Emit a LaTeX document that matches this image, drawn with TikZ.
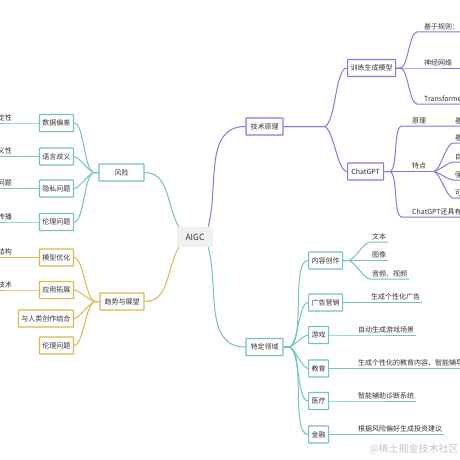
\documentclass[tikz,border=0pt]{standalone}
\usepackage{fontspec}
\setmainfont{Noto Sans CJK SC}
\definecolor{tealline}{HTML}{72C3C3}
\definecolor{purpline}{HTML}{8E74DE}
\definecolor{goldline}{HTML}{E0B552}
\definecolor{nodetext}{HTML}{333333}
\definecolor{rootfill}{HTML}{F0F0F0}
\begin{document}
\begin{tikzpicture}[x=1pt,y=-1pt,
  root/.style={fill=rootfill,rounded corners=1pt,minimum width=36pt,minimum height=20pt,inner sep=0pt,text=nodetext,font=\fontsize{8.5}{10}\selectfont},
  topic/.style={draw,fill=white,line width=1.2pt,rounded corners=0.5pt,minimum height=17pt,inner xsep=4.5pt,inner ysep=0pt,text=nodetext,font=\fontsize{7}{8}\selectfont},
  subtopic/.style={topic,inner xsep=3pt},
  leaf/.style={anchor=south west,inner xsep=2pt,inner ysep=2pt,text=nodetext,font=\fontsize{7}{8}\selectfont},
  leafl/.style={leaf,anchor=south east,inner xsep=1pt},
  link/.style={line width=1pt,looseness=0.5}]
\useasboundingbox (0,0) rectangle (460,460);
\fill[white] (0,0) rectangle (460,460);
\coordinate (edgeR) at (462,0);
\node[root] (aigc) at (195,237) {AIGC};
\node[topic,draw=purpline] (tech) at (264.5,126.5) {技术原理};
\node[topic,draw=tealline] (field) at (264.5,347) {特定领域};
\node[topic,draw=tealline,minimum width=45pt] (risk) at (121.5,172.5) {风险};
\node[topic,draw=goldline] (trend) at (122,301.5) {趋势与展望};
\node[subtopic,draw=purpline,anchor=west] (train) at (347,68) {训练生成模型};
\node[subtopic,draw=purpline,anchor=west,minimum width=36pt] (chat) at (347,171.5) {ChatGPT};
\node[subtopic,draw=tealline,anchor=east] (bias) at (74,123) {数据偏差};
\node[subtopic,draw=tealline,anchor=east] (lang) at (74,156.5) {语言歧义};
\node[subtopic,draw=tealline,anchor=east] (privacy) at (74,188.5) {隐私问题};
\node[subtopic,draw=tealline,anchor=east] (ethics) at (74,222) {伦理问题};
\node[subtopic,draw=goldline,anchor=east] (optim) at (74,257.5) {模型优化};
\node[subtopic,draw=goldline,anchor=east] (expand) at (74,290) {应用拓展};
\node[subtopic,draw=goldline,anchor=east] (human) at (74,318.5) {与人类创作结合};
\node[subtopic,draw=goldline,anchor=east] (ethicsb) at (74,345.5) {伦理问题};
\node[subtopic,draw=tealline,anchor=west] (create) at (308,260.5) {内容创作};
\node[subtopic,draw=tealline,anchor=west] (advert) at (308,302.5) {广告营销};
\node[subtopic,draw=tealline,anchor=west] (game) at (308,335) {游戏};
\node[subtopic,draw=tealline,anchor=west] (edu) at (308,368.5) {教育};
\node[subtopic,draw=tealline,anchor=west] (medic) at (308,401) {医疗};
\node[subtopic,draw=tealline,anchor=west] (finance) at (308,434.5) {金融};
\node[leaf] (rule) at (422,32) {基于规则：};
\node[leaf] (neural) at (422,68) {神经网络};
\node[leaf] (transf) at (422,104) {Transforme};
\node[leaf] (princ) at (410,126) {原理};
\node[leaf] (princa) at (453,126) {基};
\node[leaf] (feat) at (410,171.5) {特点};
\node[leaf] (feata) at (453,143) {基};
\node[leaf] (featb) at (453,162) {自};
\node[leaf] (featc) at (453,180) {强};
\node[leaf] (featd) at (453,198) {可};
\node[leaf] (more) at (410,217) {ChatGPT还具有};
\node[leaf] (ftext) at (370,242) {文本};
\node[leaf] (fimage) at (370,260.5) {图像};
\node[leaf] (faudio) at (370,279) {音频、视频};
\node[leaf] (fad) at (369,302.5) {生成个性化广告};
\node[leaf] (fgame) at (356,335) {自动生成游戏场景};
\node[leaf] (fedu) at (356,368.5) {生成个性化的教育内容、智能辅导};
\node[leaf] (fmed) at (356,401) {智能辅助诊断系统};
\node[leaf] (ffin) at (356,434.5) {根据风险偏好生成投资建议};
\node[leafl] (lbias) at (13,123) {定性};
\node[leafl] (llang) at (13,156.5) {义性};
\node[leafl] (lprivacy) at (13,188.5) {问题};
\node[leafl] (lethics) at (13,222) {传播};
\node[leafl] (loptim) at (13,257.5) {结构};
\node[leafl] (lexpand) at (13,290) {技术};
\node[anchor=west,inner sep=0pt,text=gray!45,font=\fontsize{10}{12}\selectfont] (mark) at (369,449) {@稀土掘金技术社区};
\draw[link,tealline,looseness=1] ([xshift=2pt]aigc.north west) to[out=120,in=0] (risk.east);
\draw[link,goldline,looseness=1] ([xshift=2pt]aigc.south west) to[out=-120,in=0] (trend.east);
\draw[link,purpline,looseness=1] ([xshift=-5pt]aigc.north east) to[out=75,in=180] (tech.west);
\draw[link,tealline,looseness=1] ([xshift=-5pt]aigc.south east) to[out=-75,in=180] (field.west);
\draw[link,purpline] (tech.east) -- ++(40,0) to[out=0,in=180] (train.west);
\draw[link,purpline] (tech.east) -- ++(40,0) to[out=0,in=180] (chat.west);
\draw[link,purpline] (train.east) -- ++(4,0) to[out=0,in=180] ([xshift=-5pt]rule.south west) -- (rule.south west -| edgeR);
\draw[link,purpline] (train.east) -- (neural.south west) -- (neural.south west -| edgeR);
\draw[link,purpline] (train.east) -- ++(4,0) to[out=0,in=180] ([xshift=-5pt]transf.south west) -- (transf.south west -| edgeR);
\draw[link,purpline] (chat.east) -- ++(5,0) to[out=0,in=180] ([xshift=-8pt]princ.south west) -- (princ.south east) -- (princa.south west) -- (princa.south west -| edgeR);
\draw[link,purpline] (chat.east) -- (feat.south west) -- (feat.south east) -- ++(5,0) coordinate (featj);
\draw[link,purpline] (featj) to[out=0,in=180] (feata.south west) -- (feata.south west -| edgeR);
\draw[link,purpline] (featj) to[out=0,in=180] (featb.south west) -- (featb.south west -| edgeR);
\draw[link,purpline] (featj) to[out=0,in=180] (featc.south west) -- (featc.south west -| edgeR);
\draw[link,purpline] (featj) to[out=0,in=180] (featd.south west) -- (featd.south west -| edgeR);
\draw[link,purpline] (chat.east) -- ++(5,0) to[out=0,in=180] ([xshift=-8pt]more.south west) -- (more.south west -| edgeR);
\draw[link,tealline] (risk.west) -- ++(-4,0) to[out=180,in=0] (bias.east);
\draw[link,tealline] (risk.west) -- ++(-4,0) to[out=180,in=0] (lang.east);
\draw[link,tealline] (risk.west) -- ++(-4,0) to[out=180,in=0] (privacy.east);
\draw[link,tealline] (risk.west) -- ++(-4,0) to[out=180,in=0] (ethics.east);
\draw[link,goldline] (trend.west) -- ++(-4,0) to[out=180,in=0] (optim.east);
\draw[link,goldline] (trend.west) -- ++(-4,0) to[out=180,in=0] (expand.east);
\draw[link,goldline] (trend.west) -- ++(-4,0) to[out=180,in=0] (human.east);
\draw[link,goldline] (trend.west) -- ++(-4,0) to[out=180,in=0] (ethicsb.east);
\draw[link,tealline] (bias.west) -- (lbias.south east) -- (lbias.south west);
\draw[link,tealline] (lang.west) -- (llang.south east) -- (llang.south west);
\draw[link,tealline] (privacy.west) -- (lprivacy.south east) -- (lprivacy.south west);
\draw[link,tealline] (ethics.west) -- (lethics.south east) -- (lethics.south west);
\draw[link,goldline] (optim.west) -- (loptim.south east) -- (loptim.south west);
\draw[link,goldline] (expand.west) -- (lexpand.south east) -- (lexpand.south west);
\draw[link,tealline] (field.east) -- ++(5,0) to[out=0,in=180] (create.west);
\draw[link,tealline] (field.east) -- ++(5,0) to[out=0,in=180] (advert.west);
\draw[link,tealline] (field.east) -- ++(5,0) to[out=0,in=180] (game.west);
\draw[link,tealline] (field.east) -- ++(5,0) to[out=0,in=180] (edu.west);
\draw[link,tealline] (field.east) -- ++(5,0) to[out=0,in=180] (medic.west);
\draw[link,tealline] (field.east) -- ++(5,0) to[out=0,in=180] (finance.west);
\draw[link,tealline] (create.east) -- ++(5,0) to[out=0,in=180] (ftext.south west) -- (ftext.south east);
\draw[link,tealline] (create.east) -- (fimage.south west) -- (fimage.south east);
\draw[link,tealline] (create.east) -- ++(5,0) to[out=0,in=180] (faudio.south west) -- (faudio.south east);
\draw[link,tealline] (advert.east) -- (fad.south west) -- (fad.south east);
\draw[link,tealline] (game.east) -- (fgame.south west) -- (fgame.south east);
\draw[link,tealline] (edu.east) -- (fedu.south west) -- (fedu.south west -| edgeR);
\draw[link,tealline] (medic.east) -- (fmed.south west) -- (fmed.south east);
\draw[link,tealline] (finance.east) -- (ffin.south west) -- (ffin.south east);
\end{tikzpicture}
\end{document}
